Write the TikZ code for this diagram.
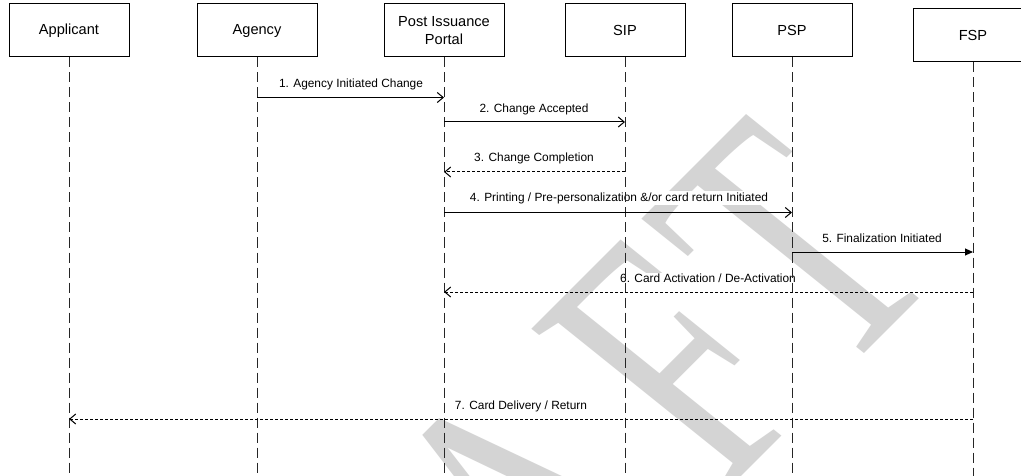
\documentclass[tikz,border=0pt]{standalone}
\usepackage{fontspec}
\setmainfont{Liberation Sans}
\newfontfamily\wmfont{Liberation Serif}
\usetikzlibrary{arrows.meta}

\begin{document}
\begin{tikzpicture}[x=1pt,y=-1pt,
  actor/.style={draw=black, line width=1pt, fill=white, minimum width=120pt,
    minimum height=53pt, inner sep=0pt, align=center,
    font=\fontsize{14.6}{18}\selectfont},
  msglabel/.style={fill=white, inner sep=1pt, font=\fontsize{11.9}{14}\selectfont},
  lifeline/.style={draw=black!85, line width=1pt, dash pattern=on 10pt off 5pt},
  call/.style={draw=black, line width=1pt, -{Straight Barb[length=6pt,width=10pt]}},
  reply/.style={call, dash pattern=on 3pt off 2pt},
  async/.style={draw=black, line width=1pt, -{Triangle[length=8pt,width=7pt]}},
  wmletter/.style={anchor=base, inner sep=0pt, transform shape, text=black!17,
    font=\wmfont\fontsize{257}{257}\selectfont}
]
% page frame
\clip (0,0) rectangle (1021,476);
\fill[white] (0,0) rectangle (1021,476);

% diagonal DRAFT watermark, stretched and slightly leaning
\begin{scope}[shift={(892,326)}, rotate=45, xslant=-0.109, yscale=1.5]
  \node[wmletter] (wmD) at (-726,0) {D};
  \node[wmletter] (wmR) at (-547,0) {R};
  \node[wmletter] (wmA) at (-368,0) {A};
  \node[wmletter] (wmF) at (-165,0) {F};
  \node[wmletter] (wmT) at (0,0) {T};
\end{scope}

% participants
\node[actor] (app) at (69,30.5) {Applicant};
\node[actor] (agy) at (257,30.5) {Agency};
\node[actor] (pip) at (444,30.5) {Post Issuance\\Portal};
\node[actor] (sip) at (625,30.5) {SIP};
\node[actor] (psp) at (792,30.5) {PSP};
\node[actor] (fsp) at (973,35.5) {FSP};

% message labels
\node[msglabel] (l1) at (351,84) {1. Agency Initiated Change};
\node[msglabel] (l2) at (534,109) {2. Change Accepted};
\node[msglabel] (l3) at (534,158) {3. Change Completion};
\node[msglabel] (l4) at (619,198) {4. Printing / Pre-personalization \&/or card return Initiated};
\node[msglabel] (l5) at (882,238) {5. Finalization Initiated};
\node[msglabel] (l6) at (708,278) {6. Card Activation / De-Activation};
\node[msglabel] (l7) at (521,406) {7. Card Delivery / Return};

% lifelines
\coordinate (bottom) at (0,478);
\foreach \p in {app,agy,pip,sip,psp,fsp}
  \draw[lifeline] (\p) -- (\p |- bottom);

% message rows
\coordinate (r1) at (0,97.5);
\coordinate (r2) at (0,122);
\coordinate (r3) at (0,172);
\coordinate (r4) at (0,212.5);
\coordinate (r5) at (0,252);
\coordinate (r6) at (0,292);
\coordinate (r7) at (0,419);

\draw[call]  (agy |- r1) -- (pip |- r1);
\draw[call]  (pip |- r2) -- (sip |- r2);
\draw[reply] (sip |- r3) -- (pip |- r3);
\draw[call]  (pip |- r4) -- (psp |- r4);
\draw[async] (psp |- r5) -- (fsp |- r5);
\draw[reply] (fsp |- r6) -- (pip |- r6);
\draw[reply] (fsp |- r7) -- (app |- r7);
\end{tikzpicture}
\end{document}
